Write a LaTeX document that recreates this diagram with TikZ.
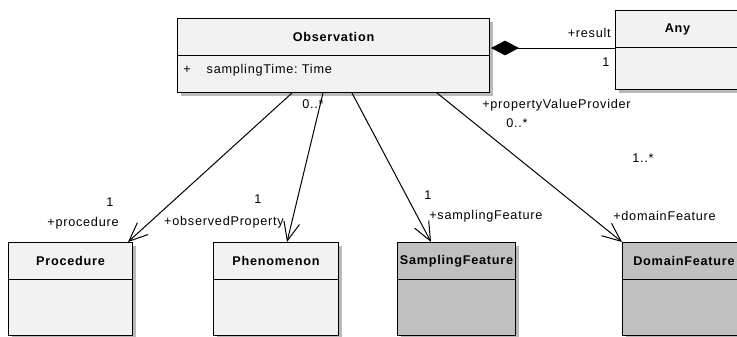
\documentclass[tikz,border=0pt]{standalone}
\usepackage{fontspec}
\setmainfont{Liberation Sans}[LetterSpace=6]
\usetikzlibrary{arrows.meta,calc,shadows}
\definecolor{clsfill}{RGB}{242,242,242}
\definecolor{featfill}{RGB}{192,192,192}
\definecolor{shadowgray}{RGB}{185,185,185}
\begin{document}
\begin{tikzpicture}[x=0.75pt,y=-0.75pt,
    font=\fontsize{9.5}{11}\selectfont,
    cls/.style = {draw, fill=clsfill, anchor=north west, inner sep=0pt,
        line width=0.75pt,
        drop shadow={shadow xshift=2.25pt, shadow yshift=-2.25pt, fill=shadowgray, opacity=1}},
    feat/.style = {cls, fill=featfill},
    title/.style = {font=\fontsize{9.5}{11}\selectfont\bfseries},
    lbl/.style = {inner sep=0pt},
    assoc/.style = {line width=0.75pt, -{Straight Barb[length=14pt,width=12pt]}},
    comp/.style = {line width=0.75pt, {Diamond[length=21pt,width=11pt]}-}]
    \useasboundingbox (0,0) rectangle (737,336);
    \clip (0,0) rectangle (737,336);
    % classes
    \node[cls, minimum width=234pt, minimum height=55.5pt] (obs) at (177,18) {};
    \node[cls, minimum width=93pt, minimum height=59.25pt] (any) at (615,10) {};
    \node[cls, minimum width=93pt, minimum height=69.75pt] (proc) at (8,242) {};
    \node[cls, minimum width=93.75pt, minimum height=69.75pt] (phen) at (213,242) {};
    \node[feat, minimum width=88.5pt, minimum height=69.75pt] (sampf) at (397,242) {};
    \node[feat, minimum width=92.25pt, minimum height=69.75pt] (domf) at (622,242) {};
    % header lines and names
    \foreach \c/\t in {obs/Observation, any/Any, proc/Procedure, phen/Phenomenon,
        sampf/SamplingFeature, domf/DomainFeature} {
        \draw[line width=0.75pt] ($(\c.north west)+(0,37)$) -- ($(\c.north east)+(0,37)$);
        \node[title] (\c-name) at ($(\c.north)+(0,19)$) {\t};
    }
    \node[lbl, anchor=west] (obs-attr) at ($(obs.north west)+(6,52)$) {+\hspace{12pt}samplingTime:\ Time};
    % connectors
    \draw[comp] ($(obs.north east)+(1,30)$) -- ($(any.north west)+(0,38)$);
    \draw[assoc] ($(obs.south west)+(115,0)$) -- ($(proc.north west)+(120,0)$);
    \draw[assoc] ($(obs.south west)+(146,0)$) -- ($(phen.north west)+(74,0)$);
    \draw[assoc] ($(obs.south west)+(175,0)$) -- ($(sampf.north west)+(34,0)$);
    \draw[assoc] ($(obs.south west)+(260,0)$) -- (domf.north west);
    % role names and multiplicities
    \node[lbl, anchor=east] (result) at (611,33) {+result};
    \node[lbl] (result-m) at (606,62) {1};
    \node[lbl] (phen-src) at (313,104) {0..*};
    \node[lbl] (proc-m) at (110,202) {1};
    \node[lbl] (proc-r) at (83,223) {+procedure};
    \node[lbl] (phen-m) at (258,199) {1};
    \node[lbl] (phen-r) at (224,222) {+observedProperty};
    \node[lbl] (sampf-m) at (428,195) {1};
    \node[lbl, anchor=west] (sampf-r) at (429,216) {+samplingFeature};
    \node[lbl, anchor=west] (domf-r) at (613,216) {+domainFeature};
    \node[lbl, anchor=west] (pvp) at (482,105) {+propertyValueProvider};
    \node[lbl] (pvp-m) at (517,123) {0..*};
    \node[lbl] (domf-m) at (643,158) {1..*};
\end{tikzpicture}
\end{document}
